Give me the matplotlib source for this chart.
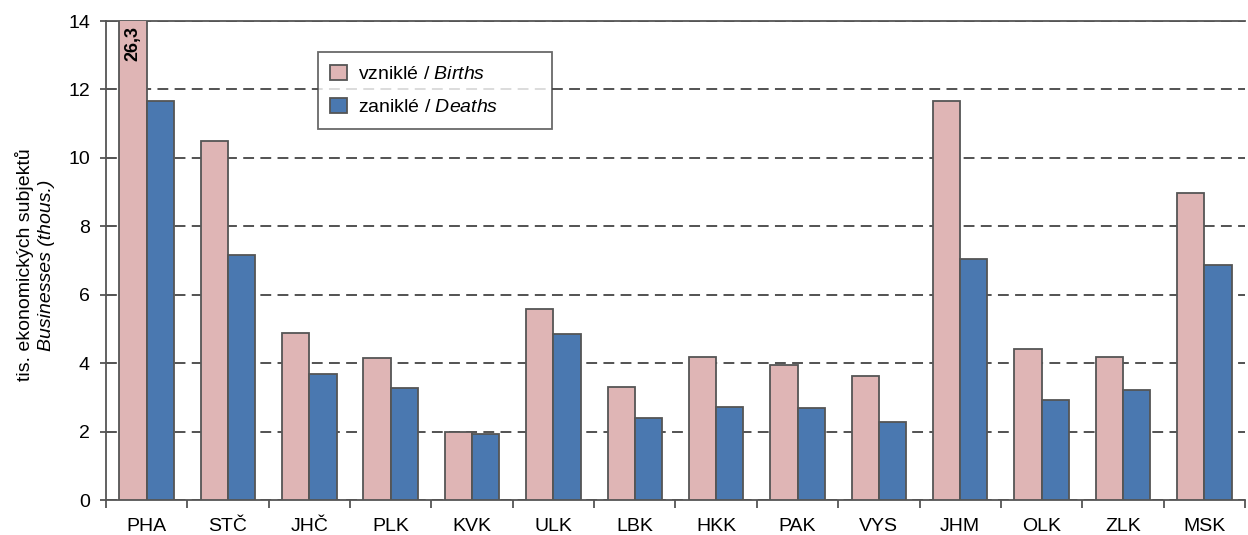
import numpy as np
import matplotlib.pyplot as plt

plt.rcParams['font.family'] = ['Liberation Sans', 'DejaVu Sans']
plt.rcParams['mathtext.fontset'] = 'custom'
plt.rcParams['mathtext.rm'] = 'Liberation Sans'
plt.rcParams['mathtext.it'] = 'Liberation Sans:italic'

# data
regions = ['PHA', 'STČ', 'JHČ', 'PLK', 'KVK', 'ULK', 'LBK',
           'HKK', 'PAK', 'VYS', 'JHM', 'OLK', 'ZLK', 'MSK']
births = [26.3, 10.49, 4.88, 4.15, 1.99, 5.58, 3.31,
          4.19, 3.95, 3.62, 11.66, 4.41, 4.19, 8.97]
deaths = [11.66, 7.16, 3.68, 3.27, 1.93, 4.84, 2.40,
          2.73, 2.69, 2.28, 7.04, 2.92, 3.22, 6.87]

pink = '#dfb5b5'
blue = '#4a78b0'
edge = '#555555'

fig = plt.figure(figsize=(12.48, 5.35), dpi=100)
ax = fig.add_axes([0.0849, 0.0654, 0.9127, 0.8953])

x = np.arange(len(regions))
w = 0.335
ax.bar(x - w/2, births, w, color=pink, edgecolor=edge, linewidth=1.3,
       label='vzniklé / $\\mathit{Births}$', zorder=3)
ax.bar(x + w/2, deaths, w, color=blue, edgecolor=edge, linewidth=1.3,
       label='zaniklé / $\\mathit{Deaths}$', zorder=3)

# value of the clipped bar
ax.text(x[0] - w/2, 13.33, f'{births[0]:.1f}'.replace('.', ','), rotation=90,
        ha='center', va='center', fontsize=13, fontweight='bold', zorder=4)

ax.set_xlim(-0.5, len(regions) - 0.5)
ax.set_ylim(0, 14)
ax.set_yticks(np.arange(0, 15, 2))
ax.set_xticks(x)
ax.set_xticklabels(regions, fontsize=14)
ax.set_xticks(np.arange(-0.5, len(regions), 1), minor=True)
ax.tick_params(axis='x', which='major', length=0, pad=13)
ax.tick_params(axis='x', which='minor', length=6, color=edge, width=1.3)
ax.tick_params(axis='y', length=4.5, color=edge, width=1.3, labelsize=14, pad=7)

ax.yaxis.grid(True, linestyle=(0, (6, 3.5)), color='#444444', linewidth=1.3, zorder=0)
ax.set_axisbelow(True)
ax.spines['right'].set_visible(False)
for s in ['top', 'left', 'bottom']:
    ax.spines[s].set_color(edge)
    ax.spines[s].set_linewidth(1.3)

fig.text(0.020, 0.505, 'tis. ekonomických subjektů', rotation=90,
         ha='center', va='center', fontsize=14)
fig.text(0.037, 0.505, 'Businesses (thous.)', rotation=90,
         ha='center', va='center', fontsize=14, style='italic')

leg = ax.legend(loc='upper left', bbox_to_anchor=(0.186, 0.0, 0.206, 0.935),
                mode='expand', fontsize=14,
                frameon=True, fancybox=False, edgecolor='#444444',
                handlelength=0.85, handleheight=0.85, handletextpad=0.55,
                borderpad=0.65, labelspacing=0.75, borderaxespad=0)
leg.get_frame().set_linewidth(1.3)
for h in leg.legend_handles:
    h.set_edgecolor(edge)

fig.savefig('out.png', dpi=100)
